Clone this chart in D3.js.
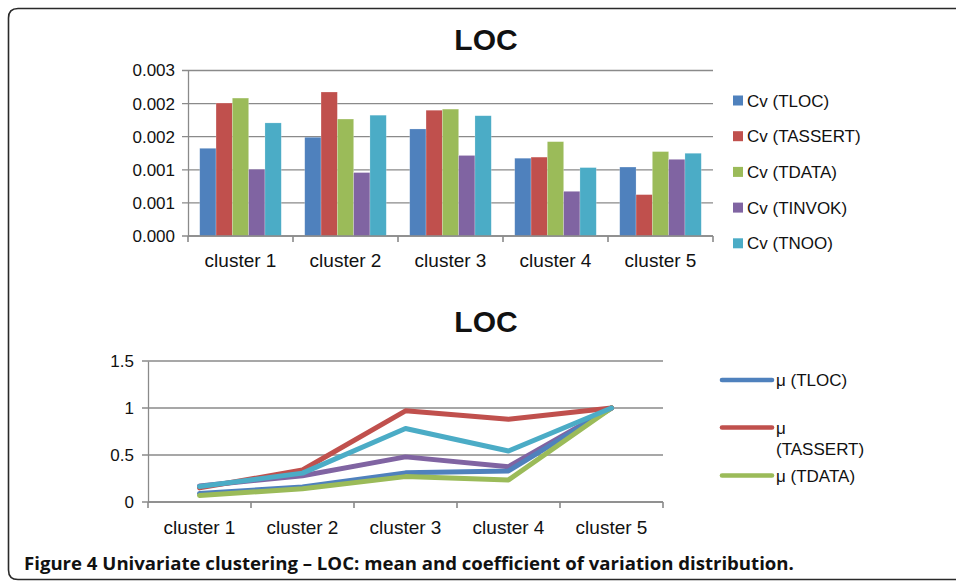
<!DOCTYPE html>
<html lang="en">
  <head>
    <meta charset="utf-8">
    <title>Univariate clustering - LOC</title>
    <script src="https://d3js.org/d3.v7.js"></script>
    <style>
      body { margin: 0; background: #fff; }
      text { font-family: "Liberation Sans", Arial, sans-serif; fill: #111; }
    </style>
  </head>

  <body>

  <script>

// Data

  var clusters = ["cluster 1", "cluster 2", "cluster 3", "cluster 4", "cluster 5"];

  var cvNames = ["Cv (TLOC)", "Cv (TASSERT)", "Cv (TDATA)", "Cv (TINVOK)", "Cv (TNOO)"];
  var cvTLOC    = [0.00159, 0.00179, 0.00194, 0.00141, 0.00125];
  var cvTASSERT = [0.00241, 0.00261, 0.00228, 0.00143, 0.00075];
  var cvTDATA   = [0.00250, 0.00212, 0.00230, 0.00171, 0.00153];
  var cvTINVOK  = [0.00121, 0.00115, 0.00146, 0.00081, 0.00139];
  var cvTNOO    = [0.00205, 0.00219, 0.00218, 0.00124, 0.00150];

  var cvTicks = [0, 0.0006, 0.0012, 0.0018, 0.0024, 0.003];

  var muNames = ["μ (TLOC)", "μ (TASSERT)", "μ (TDATA)", "μ (TINVOK)", "μ (TNOO)"];
  var muTLOC    = [0.09, 0.16, 0.31, 0.33, 1.0];
  var muTASSERT = [0.15, 0.34, 0.97, 0.88, 1.0];
  var muTDATA   = [0.07, 0.14, 0.27, 0.235, 1.0];
  var muTINVOK  = [0.17, 0.28, 0.48, 0.376, 1.0];
  var muTNOO    = [0.165, 0.307, 0.782, 0.542, 1.0];

  var muTicks = [0, 0.5, 1, 1.5];

  var colors = ["#4F81BD", "#C0504D", "#9BBB59", "#8064A2", "#4BACC6"];

  var cvSeries = [cvTLOC, cvTASSERT, cvTDATA, cvTINVOK, cvTNOO];
  var muSeries = [muTLOC, muTASSERT, muTDATA, muTINVOK, muTNOO];

  var w = 956;
  var h = 583;
  var gridColor = "#8a8a8a";

  var svg = d3.select("body")
    .append("svg")
      .attr("width", w)
      .attr("height", h);

// Frame (only left, top, bottom edges visible)

  svg.append("path")
      .attr("d", "M" + (w + 5) + ",8.5 L18,8.5 Q8.5,8.5 8.5,18 L8.5,570 Q8.5,579.5 18,579.5 L" + (w + 5) + ",579.5")
      .attr("fill", "none")
      .attr("stroke", "#2a2a2a")
      .attr("stroke-width", 1.6);

// Top chart: bars

  var barBox = {left: 188, right: 713, top: 70.5, bottom: 236};

  var x0 = d3.scaleBand()
      .domain(clusters)
      .range([barBox.left, barBox.right]);

  var x1 = d3.scaleBand()
      .domain(d3.range(cvNames.length))
      .range([0, x0.bandwidth()])
      .paddingOuter(0.72)
      .paddingInner(0);

  var yCv = d3.scaleLinear()
      .domain([0, 0.003])
      .range([barBox.bottom, barBox.top]);

  svg.append("g")
      .selectAll("line")
      .data(cvTicks)
    .enter().append("line")
      .attr("x1", barBox.left - 6)
      .attr("x2", barBox.right)
      .attr("y1", d => yCv(d))
      .attr("y2", d => yCv(d))
      .attr("stroke", gridColor)
      .attr("stroke-width", 1.3);

  var yCvAxis = d3.axisLeft(yCv)
      .tickValues(cvTicks)
      .tickSize(0)
      .tickPadding(13)
      .tickFormat(d3.format(".3f"));

  svg.append("g")
      .attr("transform", `translate(${barBox.left}, 0)`)
      .call(yCvAxis)
      .call(g => g.select(".domain").attr("stroke", gridColor).attr("stroke-width", 1.3))
      .selectAll("text")
      .style("font-size", "17px")
      .attr("fill", "#111");

  var groups = svg.append("g")
    .selectAll("g")
      .data(clusters)
    .enter().append("g")
      .attr("transform", d => `translate(${x0(d)}, 0)`);

  groups.selectAll("rect")
      .data((c, ci) => cvSeries.map((s, si) => ({si: si, value: s[ci]})))
    .enter().append("rect")
      .attr("x", d => x1(d.si))
      .attr("y", d => yCv(d.value))
      .attr("width", x1.bandwidth())
      .attr("height", d => barBox.bottom - yCv(d.value))
      .attr("fill", d => colors[d.si])
      .attr("stroke", "#fff")
      .attr("stroke-opacity", 0.35)
      .attr("stroke-width", 0.6);

  var xCvAxis = d3.axisBottom(x0)
      .tickSize(0)
      .tickPadding(18);

  svg.append("g")
      .attr("transform", `translate(0, ${barBox.bottom})`)
      .call(xCvAxis)
      .call(g => g.select(".domain").remove())
      .selectAll("text")
      .style("font-size", "19px")
      .attr("fill", "#111");

  svg.append("line")
      .attr("x1", barBox.left)
      .attr("x2", barBox.right)
      .attr("y1", barBox.bottom)
      .attr("y2", barBox.bottom)
      .attr("stroke", gridColor)
      .attr("stroke-width", 1.6);

  svg.append("g")
      .selectAll("line")
      .data(clusters.concat(["end"]))
    .enter().append("line")
      .attr("x1", (d, i) => barBox.left + i * x0.bandwidth())
      .attr("x2", (d, i) => barBox.left + i * x0.bandwidth())
      .attr("y1", barBox.bottom)
      .attr("y2", barBox.bottom + 6)
      .attr("stroke", gridColor)
      .attr("stroke-width", 1.6);

  svg.append("text")
      .attr("x", 486)
      .attr("y", 50)
      .attr("text-anchor", "middle")
      .style("font-size", "30px")
      .style("font-weight", "bold")
      .text("LOC");

  var cvLegend = svg.append("g")
    .selectAll("g")
      .data(cvNames)
    .enter().append("g")
      .attr("transform", (d, i) => `translate(733, ${100.5 + i * 35.7})`);

  cvLegend.append("rect")
      .attr("x", 0)
      .attr("y", -5)
      .attr("width", 10)
      .attr("height", 10)
      .attr("fill", (d, i) => colors[i]);

  cvLegend.append("text")
      .attr("x", 14)
      .attr("y", 6)
      .style("font-size", "17px")
      .text(d => d);

// Bottom chart: lines

  var lineBox = {left: 148, right: 663, top: 361, bottom: 502};

  var xMu = d3.scaleBand()
      .domain(clusters)
      .range([lineBox.left, lineBox.right]);

  var yMu = d3.scaleLinear()
      .domain([0, 1.5])
      .range([lineBox.bottom, lineBox.top]);

  svg.append("g")
      .selectAll("line")
      .data(muTicks)
    .enter().append("line")
      .attr("x1", lineBox.left - 6)
      .attr("x2", lineBox.right)
      .attr("y1", d => yMu(d))
      .attr("y2", d => yMu(d))
      .attr("stroke", gridColor)
      .attr("stroke-width", 1.3);

  svg.append("g")
      .attr("transform", `translate(${lineBox.left}, 0)`)
      .call(d3.axisLeft(yMu).tickValues(muTicks).tickSize(0).tickPadding(14).tickFormat(d3.format("")))
      .call(g => g.select(".domain").attr("stroke", gridColor).attr("stroke-width", 1.3))
      .selectAll("text")
      .style("font-size", "17px")
      .attr("fill", "#111");

  svg.append("g")
      .attr("transform", `translate(0, ${lineBox.bottom})`)
      .call(d3.axisBottom(xMu).tickSize(0).tickPadding(19))
      .call(g => g.select(".domain").remove())
      .selectAll("text")
      .style("font-size", "19px")
      .attr("fill", "#111");

  svg.append("line")
      .attr("x1", lineBox.left)
      .attr("x2", lineBox.right)
      .attr("y1", lineBox.bottom)
      .attr("y2", lineBox.bottom)
      .attr("stroke", gridColor)
      .attr("stroke-width", 1.6);

  svg.append("g")
      .selectAll("line")
      .data(clusters.concat(["end"]))
    .enter().append("line")
      .attr("x1", (d, i) => lineBox.left + i * xMu.bandwidth())
      .attr("x2", (d, i) => lineBox.left + i * xMu.bandwidth())
      .attr("y1", lineBox.bottom)
      .attr("y2", lineBox.bottom + 6)
      .attr("stroke", gridColor)
      .attr("stroke-width", 1.6);

  var line = d3.line()
      .x((d, i) => xMu(clusters[i]) + xMu.bandwidth() / 2)
      .y(d => yMu(d));

  // draw order so that red and teal sit on top, blue under green
  var drawOrder = [3, 0, 2, 1, 4];

  svg.append("g")
    .selectAll("path")
      .data(drawOrder)
    .enter().append("path")
      .attr("d", si => line(muSeries[si]))
      .attr("fill", "none")
      .attr("stroke", si => colors[si])
      .attr("stroke-width", 5)
      .attr("stroke-linejoin", "round")
      .attr("stroke-linecap", "round");

  svg.append("text")
      .attr("x", 486)
      .attr("y", 332)
      .attr("text-anchor", "middle")
      .style("font-size", "30px")
      .style("font-weight", "bold")
      .text("LOC");

  // legend is clipped in the original: only the first three entries show
  var muLegendY = [380, 427.5, 475.5];

  var muLegend = svg.append("g")
    .selectAll("g")
      .data(muNames.slice(0, 3))
    .enter().append("g")
      .attr("transform", (d, i) => `translate(722, ${muLegendY[i]})`);

  muLegend.append("line")
      .attr("x1", 0)
      .attr("x2", 50)
      .attr("stroke", (d, i) => colors[i])
      .attr("stroke-width", 4.6)
      .attr("stroke-linecap", "round");

  muLegend.append("text")
      .attr("x", 54)
      .attr("y", 6)
      .style("font-size", "17px")
      .each(function (d) {
        var t = d3.select(this);
        if (d == "μ (TASSERT)") {
          t.append("tspan").attr("x", 54).attr("dy", 0).text("μ");
          t.append("tspan").attr("x", 54).attr("dy", 21).text("(TASSERT)");
        } else {
          t.text(d);
        }
      });

// Caption

  svg.append("text")
      .attr("x", 24)
      .attr("y", 570)
      .style("font-family", "'Open Sans', sans-serif")
      .style("font-size", "18.6px")
      .style("font-weight", "bold")
      .attr("fill", "#222")
      .text("Figure 4 Univariate clustering – LOC: mean and coefficient of variation distribution.");

    </script>

  </body>

</html>
